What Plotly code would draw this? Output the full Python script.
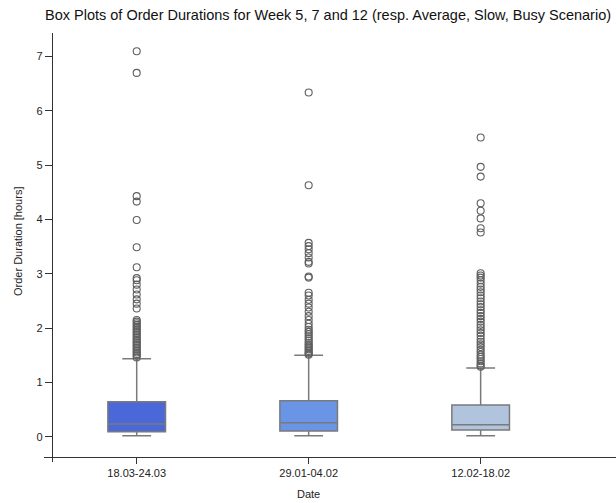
import plotly.graph_objects as go

# Weekly order-duration summaries (hours)
categories = ["18.03-24.03", "29.01-04.02", "12.02-18.02"]
q1_vals = [0.092, 0.105, 0.123]
median_vals = [0.234, 0.258, 0.221]
q3_vals = [0.645, 0.663, 0.584]
lower_fence = [0.018, 0.018, 0.018]
upper_fence = [1.436, 1.499, 1.265]

outliers_week12 = [7.10, 6.70, 4.43, 4.33, 3.99, 3.49, 3.12, 2.92, 2.88, 2.80,
                   2.71, 2.62, 2.53, 2.45, 2.36, 2.15, 2.12, 2.09, 2.06, 2.03,
                   2.00, 1.97, 1.94, 1.91, 1.88, 1.85, 1.82, 1.79, 1.76, 1.73,
                   1.70, 1.67, 1.64, 1.61, 1.58, 1.55, 1.52, 1.49, 1.46]
outliers_week5 = [6.34, 4.63, 3.57, 3.51, 3.45, 3.38, 3.30, 3.22, 3.19, 2.95,
                  2.93, 2.65, 2.60, 2.52, 2.45, 2.38, 2.30, 2.22, 2.15, 2.08,
                  2.02, 1.97, 1.93, 1.89, 1.85, 1.81, 1.77, 1.73, 1.70, 1.67,
                  1.64, 1.61, 1.58, 1.55, 1.53, 1.51]
outliers_week7 = [5.51, 4.97, 4.79, 4.30, 4.16, 4.02, 3.84, 3.76, 3.01, 2.97,
                  2.93, 2.88, 2.82, 2.76, 2.71, 2.66, 2.60, 2.55, 2.49, 2.44,
                  2.39, 2.33, 2.28, 2.22, 2.17, 2.12, 2.06, 2.01, 1.96, 1.91,
                  1.86, 1.80, 1.75, 1.70, 1.65, 1.60, 1.56, 1.51, 1.47, 1.43,
                  1.39, 1.35, 1.31, 1.29]
outliers = [outliers_week12, outliers_week5, outliers_week7]

fill_colors = ["#4a68d8", "#6a95e6", "#b0c4de"]

FONT = "Liberation Sans, Arial, Helvetica, sans-serif"
W, H = 616, 503
ML, MR, MT, MB = 44, 0, 33, 41
PW, PH = W - ML - MR, H - MT - MB

fig = go.Figure()

for i, cat in enumerate(categories):
    fig.add_trace(go.Box(
        x=[cat],
        q1=[q1_vals[i]], median=[median_vals[i]], q3=[q3_vals[i]],
        lowerfence=[lower_fence[i]], upperfence=[upper_fence[i]],
        fillcolor=fill_colors[i],
        line=dict(color="#7a7a7a", width=1.5),
        width=0.335,
        whiskerwidth=0.5,
        boxpoints=False,
        hoverinfo="skip",
        showlegend=False,
    ))
    fig.add_trace(go.Scatter(
        x=[cat] * len(outliers[i]),
        y=outliers[i],
        mode="markers",
        marker=dict(symbol="circle-open", size=7, color="#5f5f5f",
                    line=dict(width=1.1)),
        showlegend=False,
        hoverinfo="y",
    ))

# pixel helpers for placing the offset axes
def px_x(p):
    return (p - ML) / PW

def px_y(p):
    return (H - MB - p) / PH

fig.update_layout(
    width=W, height=H,
    margin=dict(l=ML, r=MR, t=MT, b=MB, autoexpand=False),
    paper_bgcolor="white", plot_bgcolor="white",
    font=dict(family=FONT, size=11, color="#222"),
    boxmode="overlay",
    title=dict(
        text="Box Plots of Order Durations for Week 5, 7 and 12 (resp. Average, Slow, Busy Scenario)",
        x=45 / W, xanchor="left", xref="container",
        y=1 - 15 / H, yanchor="middle", yref="container",
        font=dict(family=FONT, size=14.5, color="#111"),
    ),
    xaxis=dict(
        type="category",
        range=[-0.539, 2.787],
        anchor="free", position=px_y(457),
        showline=True, linecolor="#333", linewidth=1,
        ticks="outside", ticklen=6, tickcolor="#333",
        showgrid=False, zeroline=False,
        tickfont=dict(family=FONT, size=11, color="#222"),
        automargin=False,
    ),
    yaxis=dict(
        range=[-0.466, 7.435],
        anchor="free", position=px_x(51.7),
        showline=True, linecolor="#333", linewidth=1,
        ticks="outside", ticklen=7, tickcolor="#333",
        tickvals=[0, 1, 2, 3, 4, 5, 6, 7],
        showgrid=False, zeroline=False,
        tickfont=dict(family=FONT, size=11, color="#222"),
        automargin=False,
    ),
    annotations=[
        dict(text="Date", xref="x", x=1, yref="paper", y=px_y(494),
             showarrow=False, xanchor="center", yanchor="middle",
             font=dict(family=FONT, size=11, color="#222")),
        dict(text="Order Duration [hours]", xref="paper", x=px_x(18),
             yref="paper", y=px_y(242), textangle=-90,
             showarrow=False, xanchor="center", yanchor="middle",
             font=dict(family=FONT, size=11, color="#222")),
    ],
)

fig.write_html("out.html")
